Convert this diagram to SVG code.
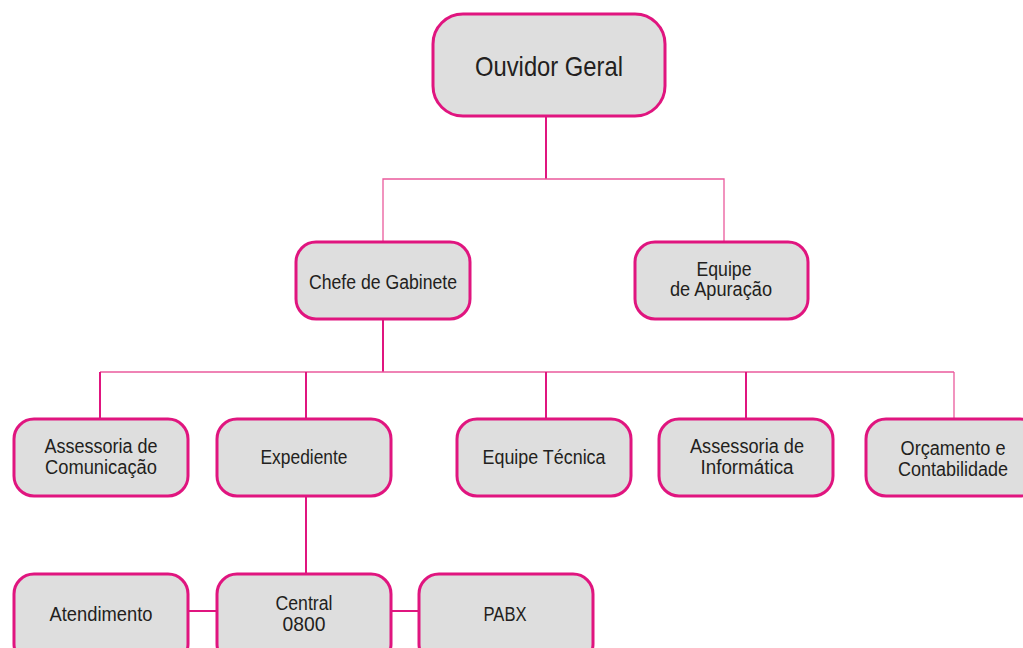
<svg xmlns="http://www.w3.org/2000/svg" width="1023" height="648" viewBox="0 0 1023 648">
<style>
.box{fill:#dedede;stroke:#e0157f;stroke-width:3}
.t{font-family:"Liberation Sans Narrow","Liberation Sans",Arial,sans-serif;font-size:20px;fill:#231f20;text-anchor:middle}
.big{font-size:28px}
.c{stroke:#e0157f;stroke-width:2;fill:none}
.cl{stroke:#ea5a9c;stroke-width:1.3;fill:none}
</style>
<rect width="1023" height="648" fill="#ffffff"/>
<g id="connectors">
<line class="c" x1="546" y1="116" x2="546" y2="179"/>
<polyline class="cl" points="383,242 383,179 724,179 724,242"/>
<line class="c" x1="383" y1="319" x2="383" y2="372"/>
<line class="cl" x1="100" y1="372" x2="954" y2="372"/>
<line class="c" x1="100" y1="372" x2="100" y2="419"/>
<line class="c" x1="306" y1="372" x2="306" y2="419"/>
<line class="c" x1="546" y1="372" x2="546" y2="419"/>
<line class="c" x1="746" y1="372" x2="746" y2="419"/>
<line class="cl" x1="954" y1="372" x2="954" y2="419"/>
<line class="c" x1="306" y1="496" x2="306" y2="574"/>
<line class="c" x1="188" y1="611" x2="217" y2="611"/>
<line class="c" x1="391" y1="611" x2="419" y2="611"/>
</g>
<g id="ouvidor">
<rect class="box" x="433" y="14" width="232" height="102" rx="30"/>
<text class="t big" x="549" y="76" textLength="148" lengthAdjust="spacingAndGlyphs">Ouvidor Geral</text>
</g>
<g id="chefe">
<rect class="box" x="296" y="242" width="174" height="77" rx="20"/>
<text class="t" x="383" y="289" textLength="148" lengthAdjust="spacingAndGlyphs">Chefe de Gabinete</text>
</g>
<g id="apuracao">
<rect class="box" x="635" y="242" width="173" height="77" rx="20"/>
<text class="t" x="724" y="276" textLength="55" lengthAdjust="spacingAndGlyphs">Equipe</text>
<text class="t" x="721" y="296" textLength="102" lengthAdjust="spacingAndGlyphs">de Apuração</text>
</g>
<g id="comunicacao">
<rect class="box" x="14" y="419" width="174" height="77" rx="20"/>
<text class="t" x="101" y="453" textLength="113" lengthAdjust="spacingAndGlyphs">Assessoria de</text>
<text class="t" x="101" y="474" textLength="112" lengthAdjust="spacingAndGlyphs">Comunicação</text>
</g>
<g id="expediente">
<rect class="box" x="217" y="419" width="174" height="77" rx="20"/>
<text class="t" x="304" y="464" textLength="87" lengthAdjust="spacingAndGlyphs">Expediente</text>
</g>
<g id="tecnica">
<rect class="box" x="457" y="419" width="174" height="77" rx="20"/>
<text class="t" x="544" y="464" textLength="123" lengthAdjust="spacingAndGlyphs">Equipe Técnica</text>
</g>
<g id="informatica">
<rect class="box" x="659" y="419" width="174" height="77" rx="20"/>
<text class="t" x="747" y="453" textLength="114" lengthAdjust="spacingAndGlyphs">Assessoria de</text>
<text class="t" x="747" y="474" textLength="93" lengthAdjust="spacingAndGlyphs">Informática</text>
</g>
<g id="orcamento">
<rect class="box" x="866" y="419" width="174" height="77" rx="20"/>
<text class="t" x="953" y="455" textLength="105" lengthAdjust="spacingAndGlyphs">Orçamento e</text>
<text class="t" x="953" y="476" textLength="110" lengthAdjust="spacingAndGlyphs">Contabilidade</text>
</g>
<g id="atendimento">
<rect class="box" x="14" y="574" width="174" height="90" rx="20"/>
<text class="t" x="101" y="621" textLength="103" lengthAdjust="spacingAndGlyphs">Atendimento</text>
</g>
<g id="central">
<rect class="box" x="217" y="574" width="174" height="90" rx="20"/>
<text class="t" x="304" y="610" textLength="57" lengthAdjust="spacingAndGlyphs">Central</text>
<text class="t" x="304" y="631" textLength="43" lengthAdjust="spacingAndGlyphs">0800</text>
</g>
<g id="pabx">
<rect class="box" x="419" y="574" width="174" height="90" rx="20"/>
<text class="t" x="505" y="621" textLength="43" lengthAdjust="spacingAndGlyphs">PABX</text>
</g>
</svg>
